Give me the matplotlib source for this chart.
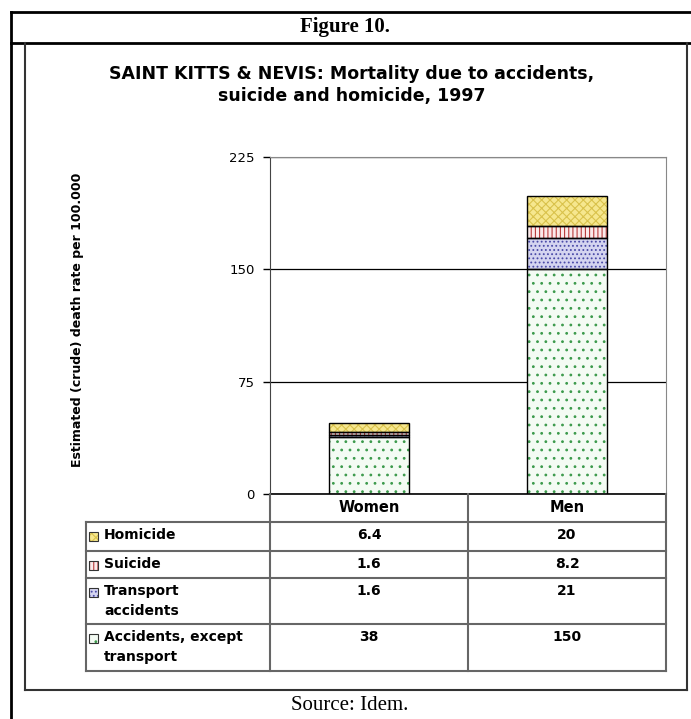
import numpy as np
import matplotlib
matplotlib.use("Agg")
import matplotlib.pyplot as plt
from matplotlib.lines import Line2D
from matplotlib.patches import Rectangle

# chart data (stack order: bottom -> top)
groups = ["Women", "Men"]
causes = ["Accidents, except\ntransport", "Transport\naccidents", "Suicide", "Homicide"]
women = [38, 1.6, 1.6, 6.4]
men = [150, 21, 8.2, 20]
y_ticks = [0, 75, 150, 225]

title = "SAINT KITTS & NEVIS: Mortality due to accidents,\nsuicide and homicide, 1997"
ylabel = "Estimated (crude) death rate per 100.000"

face = ["#F4FBF4", "#D4D4F0", "#FBEAEA", "#F6E78E"]
hcol = ["#3C9A4C", "#4A4AA8", "#B83A3A", "#D9C24C"]
hatches = ["..", "....", "||||", "xxxx"]

W, H = 691, 719
plt.rcParams["font.family"] = ["DejaVu Sans"]
plt.rcParams["hatch.linewidth"] = 0.8


def fx(x):
    return x / W


def fy(y):
    return 1 - y / H


def hline(x0, x1, y, **kw):
    fig.add_artist(Line2D([fx(x0), fx(x1)], [fy(y), fy(y)], transform=fig.transFigure, **kw))


def vline(x, y0, y1, **kw):
    fig.add_artist(Line2D([fx(x), fx(x)], [fy(y0), fy(y1)], transform=fig.transFigure, **kw))


fig = plt.figure(figsize=(W / 100, H / 100), dpi=100)

# page frame
hline(11, 691, 12, color="black", lw=2)
hline(11, 691, 43, color="black", lw=2)
vline(11, 12, 719, color="black", lw=2)
vline(25, 43, 690, color="#333333", lw=1.5)
vline(687, 43, 690, color="#333333", lw=1.5)
hline(25, 687, 690, color="#333333", lw=1.5)

fig.text(fx(345), fy(27), "Figure 10.", ha="center", va="center",
         fontsize=15, fontweight="bold", family="Liberation Serif")
fig.text(fx(350), fy(705), "Source: Idem.", ha="center", va="center",
         fontsize=15, family="Liberation Serif")

fig.text(fx(352), fy(85), title, ha="center", va="center", fontsize=12.5,
         fontweight="bold", linespacing=1.3)

# plot area
ax = fig.add_axes([fx(270), fy(494), fx(666) - fx(270), fy(157) - fy(494)])
x = np.arange(len(groups))
bottom = np.zeros(len(groups))
for i in range(len(causes)):
    vals = np.array([women[i], men[i]])
    ax.bar(x, vals, 0.404, bottom=bottom, color=face[i], edgecolor=hcol[i],
           hatch=hatches[i], linewidth=0, zorder=2)
    ax.bar(x, vals, 0.404, bottom=bottom, fill=False, edgecolor="black",
           linewidth=1, zorder=3)
    bottom += vals

ax.set_xlim(-0.5, len(groups) - 0.5)
ax.set_ylim(0, 225)
ax.set_yticks(y_ticks)
ax.yaxis.grid(True, color="black", lw=0.9, zorder=0)
ax.set_axisbelow(True)
ax.tick_params(axis="y", length=5, width=1, pad=6, labelsize=9.5)
ax.tick_params(axis="x", bottom=False, labelbottom=False)
ax.spines["top"].set_color("#888888")
ax.spines["right"].set_color("#888888")
ax.spines["left"].set_color("#444444")
ax.spines["bottom"].set_color("black")
ax.spines["bottom"].set_linewidth(1.2)

fig.text(fx(78), fy(320), ylabel, rotation=90, ha="center", va="center",
         fontsize=9, fontweight="bold")

# data table
t_left, c1, c2, c3 = 86, 270, 468, 666
rows = [522, 551, 578, 624, 671]
tc = "#666666"
vline(c1, 494, rows[-1], color=tc, lw=1.5)
vline(c2, 494, rows[-1], color=tc, lw=1.5)
vline(c3, 494, rows[-1], color=tc, lw=1.5)
vline(t_left, rows[0], rows[-1], color=tc, lw=1.5)
for y in rows:
    hline(t_left if y > 494 else c1, c3, y, color=tc, lw=1.5)

centers = [(c1 + c2) / 2, (c2 + c3) / 2]
for j, g in enumerate(groups):
    fig.text(fx(centers[j]), fy(508), g, ha="center", va="center",
             fontsize=10.5, fontweight="bold")

n = len(causes)
for r in range(n):
    i = n - 1 - r
    top = rows[r]
    key = Rectangle((fx(89), fy(top + 19)), fx(9), fx(9) * W / H,
                    transform=fig.transFigure, facecolor=face[i],
                    edgecolor=hcol[i], hatch=hatches[i], lw=0)
    fig.add_artist(key)
    fig.add_artist(Rectangle((fx(89), fy(top + 19)), fx(9), fx(9) * W / H,
                             transform=fig.transFigure, fill=False,
                             edgecolor="#333333", lw=0.8))
    fig.text(fx(104), fy(top + 6), causes[i], ha="left", va="top",
             fontsize=10, fontweight="bold", linespacing=1.55)
    for j, vals in enumerate([women, men]):
        fig.text(fx(centers[j]), fy(top + 6), f"{vals[i]:g}", ha="center",
                 va="top", fontsize=10, fontweight="bold")

fig.savefig("out.png", dpi=100)
